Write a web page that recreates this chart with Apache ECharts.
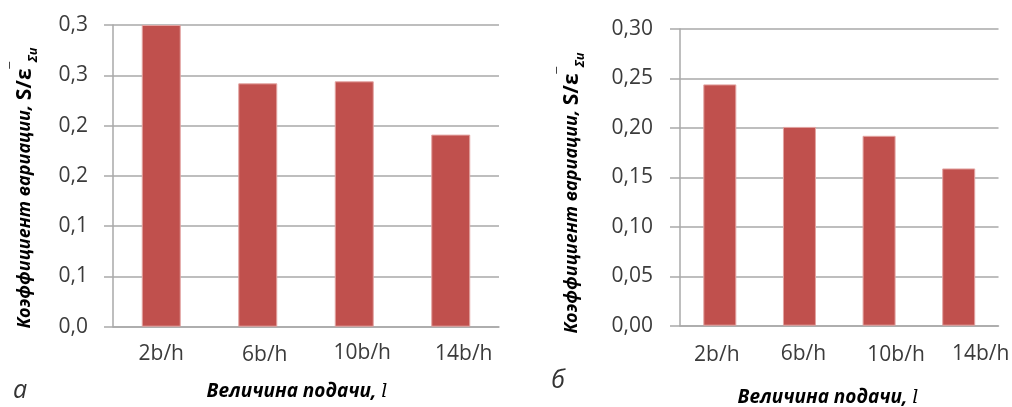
<!DOCTYPE html>
<html>
<head>
<meta charset="utf-8">
<script src="https://cdn.jsdelivr.net/npm/echarts@6/dist/echarts.min.js"></script>
<style>
  html, body { margin: 0; padding: 0; background: #fff; }
  #chart { width: 1012px; height: 407px; }
</style>
</head>
<body>
<div id="chart"></div>
<script>
// Feed step categories, shared by both panels
const categories = ['2b/h', '6b/h', '10b/h', '14b/h'];

// Coefficient of variation, panel "а"
const valuesA = [0.300, 0.242, 0.244, 0.191];
// Coefficient of variation, panel "б"
const valuesB = [0.244, 0.201, 0.192, 0.159];

// Tick labels of the value axes (0 .. 0.30 step 0.05)
const tickLabelsA = ['0,0', '0,1', '0,1', '0,2', '0,2', '0,3', '0,3'];
const tickLabelsB = ['0,00', '0,05', '0,10', '0,15', '0,20', '0,25', '0,30'];

const yTitle = 'Коэффициент вариации, ';
const yTitleSymbol = 'S/ε';
const yTitleIndex = 'Σи';
const xTitle = 'Величина подачи, ';
const panelTags = ['а', 'б'];

const BAR = '#C0504D';
const GRID_LINE = '#a9a9a9';
const TEXT = '#3b3b3b';

// small per-label nudges of the category labels [dx, dy]
const nudgeA = [[0, 2], [7, 4], [8, 0], [13, 3]];
const nudgeB = [[-3, 3], [4, 0], [17, 3], [22, 1]];

function labelRich(nudges) {
  const rich = {};
  nudges.forEach(([dx, dy], i) => {
    rich['c' + i] = {
      fontFamily: 'Open Sans', fontSize: 21, color: TEXT, lineHeight: 24,
      padding: [dy, dx < 0 ? -2 * dx : 0, 0, dx > 0 ? 2 * dx : 0]
    };
  });
  return rich;
}

function xAxis(gridIndex, nudges, margin) {
  return {
    type: 'category', gridIndex, data: categories,
    axisLine: { lineStyle: { color: GRID_LINE, width: 1.5 } },
    axisTick: { show: false },
    axisLabel: {
      interval: 0, margin,
      formatter: (v, i) => '{c' + i + '|' + v + '}',
      rich: labelRich(nudges)
    }
  };
}

function yAxis(gridIndex, labels, margin, tickLen) {
  return {
    type: 'value', gridIndex, min: 0, max: 0.3, interval: 0.05,
    axisLine: { show: true, lineStyle: { color: GRID_LINE, width: 1.5 } },
    axisTick: { show: true, length: tickLen, lineStyle: { color: GRID_LINE, width: 1.5 } },
    splitLine: { lineStyle: { color: GRID_LINE, width: 1.5 } },
    axisLabel: {
      margin, fontFamily: 'Open Sans', fontSize: 21, color: TEXT,
      formatter: v => labels[Math.round(v / 0.05)]
    }
  };
}

function barSeries(idx, data, width) {
  return {
    type: 'bar', xAxisIndex: idx, yAxisIndex: idx, data,
    barWidth: width,
    itemStyle: { color: BAR, borderColor: '#e3a4a2', borderWidth: 1 },
    silent: true
  };
}

function verticalTitle(x, y) {
  return {
    type: 'text', x, y, rotation: Math.PI / 2,
    style: {
      text: yTitle + '{m|' + yTitleSymbol + '}{sup|‾}{sub|' + yTitleIndex + '}',
      align: 'center', verticalAlign: 'middle',
      fontFamily: 'Open Sans', fontSize: 18, fontWeight: 'bold', fontStyle: 'italic',
      fill: '#000', lineHeight: 30,
      rich: {
        m: { fontFamily: 'Open Sans', fontSize: 21, fontWeight: 'bold', fontStyle: 'normal', lineHeight: 30 },
        sup: { fontFamily: 'Open Sans', fontSize: 18, fontWeight: 'bold', verticalAlign: 'top', lineHeight: 30 },
        sub: { fontFamily: 'Open Sans', fontSize: 13, fontWeight: 'bold', fontStyle: 'italic', verticalAlign: 'bottom', lineHeight: 30 }
      }
    }
  };
}

function horizontalTitle(x, y) {
  return {
    type: 'text', x, y,
    style: {
      text: xTitle + '{l|l}',
      align: 'center', verticalAlign: 'middle',
      fontFamily: 'Open Sans', fontSize: 19, fontWeight: 'bold', fontStyle: 'italic',
      fill: '#000',
      rich: { l: { fontFamily: 'DejaVu Serif', fontSize: 19, fontStyle: 'italic', fontWeight: 'normal' } }
    }
  };
}

function tag(text, x, y) {
  return {
    type: 'text', x, y,
    style: {
      text, align: 'center', verticalAlign: 'middle',
      fontFamily: 'Open Sans', fontSize: 25, fontStyle: 'italic', fill: '#333'
    }
  };
}

const chart = echarts.init(document.getElementById('chart'), null, { renderer: 'canvas' });
chart.setOption({
  animation: false,
  backgroundColor: '#fff',
  grid: [
    { left: 113, top: 25, width: 386, height: 301.7 },
    { left: 680, top: 29, width: 322, height: 296.7 }
  ],
  xAxis: [xAxis(0, nudgeA, 14), xAxis(1, nudgeB, 16)],
  yAxis: [yAxis(0, tickLabelsA, 25, 9), yAxis(1, tickLabelsB, 27, 10)],
  series: [barSeries(0, valuesA, 39), barSeries(1, valuesB, 33)],
  graphic: [
    verticalTitle(25, 188),
    verticalTitle(572, 193),
    horizontalTitle(297, 392),
    horizontalTitle(828, 398),
    tag(panelTags[0], 20, 391),
    tag(panelTags[1], 558, 381)
  ]
});
</script>
</body>
</html>
